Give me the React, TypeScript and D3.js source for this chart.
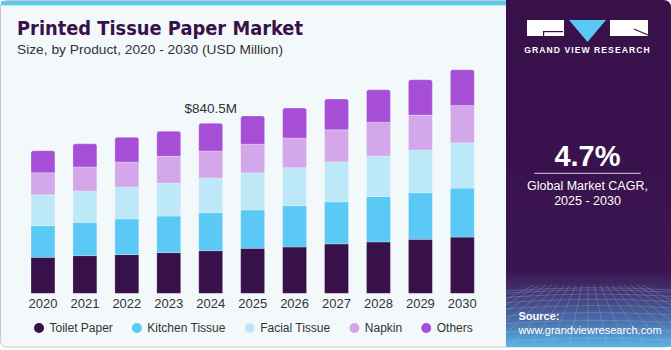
import React from "react";
import * as d3 from "d3";

const years = ["2020", "2021", "2022", "2023", "2024", "2025", "2026", "2027", "2028", "2029", "2030"];
const toiletPaper = [178, 186, 191, 201, 210.6, 222.5, 229, 244, 254, 267, 278];
const kitchenTissue = [156, 165, 176.5, 181, 188, 189.5, 204, 208, 224, 230, 242];
const facialTissue = [153, 155, 158, 163, 171.5, 183, 188, 198, 201, 211, 224];
const napkin = [109, 119, 124, 132, 133.5, 142, 147, 158, 167, 173, 185];
const others = [109, 114, 122, 124, 136.9, 140, 148, 153, 160, 175, 176];
const seriesNames = ["Toilet Paper", "Kitchen Tissue", "Facial Tissue", "Napkin", "Others"];
const seriesColors = ["#38104a", "#5bc9f6", "#bde8f8", "#d4a6ea", "#a64fd6"];
const annotation = { year: "2024", label: "$840.5M" };

const FONT = "'Liberation Sans', Arial, sans-serif";

function measure(text: string, font: string): number {
  if (typeof document === "undefined") return text.length * 6;
  const c = document.createElement("canvas");
  const ctx = c.getContext("2d");
  if (!ctx) return text.length * 6;
  ctx.font = font;
  return ctx.measureText(text).width;
}

export default function App() {
  const W = 671;
  const H = 350;
  const table = years.map((y, i) => ({
    year: y,
    "Toilet Paper": toiletPaper[i],
    "Kitchen Tissue": kitchenTissue[i],
    "Facial Tissue": facialTissue[i],
    Napkin: napkin[i],
    Others: others[i],
  }));
  const stack = d3.stack<any>().keys(seriesNames)(table);

  const x = d3.scaleBand<string>().domain(years).range([22, 483.3]).paddingInner(0.43).paddingOuter(0.215);
  const y = d3.scaleLinear().domain([0, 1200]).range([293.3, 293.3 - 1200 * 0.20226]);
  const bw = x.bandwidth();

  const totalOf = (i: number) => toiletPaper[i] + kitchenTissue[i] + facialTissue[i] + napkin[i] + others[i];
  const annIdx = years.indexOf(annotation.year);

  // legend layout
  const legendFont = `12px ${FONT}`;
  let lx = 39;
  const legendItems = seriesNames.map((name, i) => {
    const item = { name, color: seriesColors[i], cx: lx, tx: lx + 10.5 };
    lx = lx + 10.5 + measure(name, legendFont) + 24;
    return item;
  });

  const topPath = (x0: number, y0: number, w: number, h: number, r: number) =>
    `M${x0},${y0 + h}V${y0 + r}Q${x0},${y0} ${x0 + r},${y0}H${x0 + w - r}Q${x0 + w},${y0} ${x0 + w},${y0 + r}V${y0 + h}Z`;

  // mesh lines for panel decoration
  const meshH = d3.range(0, 10).map((k) => 288 + Math.pow(k / 9, 1.5) * 60);
  const meshV = d3.range(-9, 10).map((k) => k);

  return (
    <div>
      <style>{"body{margin:0}"}</style>
      <svg width={W} height={H} style={{ display: "block" }} fontFamily={FONT}>
        <defs>
          <linearGradient id="panelGrad" x1="0" y1="0" x2="0" y2="1">
            <stop offset="0" stopColor="#38104a" />
            <stop offset="0.78" stopColor="#3a1450" />
            <stop offset="0.84" stopColor="#43346f" />
            <stop offset="0.92" stopColor="#4a6aa6" />
            <stop offset="1" stopColor="#5ab4e4" />
          </linearGradient>
          <clipPath id="meshClip">
            <rect x={506} y={285} width={165} height={62} />
          </clipPath>
        </defs>
        {/* card */}
        <rect x={0.5} y={0.5} width={W - 1} height={346.5} rx={6} fill="#f3f8fb" stroke="#c9c9c9" />
        <rect x={1} y={1} width={506} height={4} fill="#5bc8f0" />
        <rect x={1} y={5} width={506} height={1} fill="#bfe6f7" />
        {/* right panel */}
        <path d={`M506,0H663Q671,0 671,8V347H506Z`} fill="url(#panelGrad)" />
        <g clipPath="url(#meshClip)" stroke="#a8ccf0" strokeOpacity={0.32} strokeWidth={0.8} fill="none">
          {meshH.map((yy, k) => (
            <path key={"h" + k} d={`M506,${yy + 3}Q590,${yy - 3} 671,${yy + 2}`} />
          ))}
          {meshV.map((k) => (
            <line key={"v" + k} x1={588 + k * 6} y1={285} x2={588 + k * 20} y2={350} />
          ))}
        </g>
        {/* logo */}
        <rect x={527} y={20} width={37} height={16} fill="#ffffff" />
        <rect x={543} y={31} width={20} height={1.2} fill="#38104a" />
        <rect x={543} y={31} width={1.2} height={5} fill="#38104a" />
        <path d="M569,20H606L587.5,42Z" fill="#5bc8f5" />
        <rect x={610} y={20} width={38} height={16} fill="#ffffff" />
        <path d="M634,29L648,35" stroke="#38104a" strokeWidth={1.2} />
        <text x={587.5} y={53} textAnchor="middle" fill="#ffffff" fontSize={8.6} fontWeight="bold" letterSpacing={1.05}>
          GRAND VIEW RESEARCH
        </text>
        {/* CAGR */}
        <text x={587.5} y={166} textAnchor="middle" fill="#ffffff" fontSize={29} fontWeight="bold">
          4.7%
        </text>
        <line x1={534.3} x2={640.7} y1={173.3} y2={173.3} stroke="#d8d0e0" strokeWidth={1} />
        <text x={587.5} y={189.5} textAnchor="middle" fill="#ffffff" fontSize={12.5}>
          Global Market CAGR,
        </text>
        <text x={587.5} y={204.5} textAnchor="middle" fill="#ffffff" fontSize={12.5}>
          2025 - 2030
        </text>
        <text x={518.5} y={319.5} fill="#ffffff" fontSize={11} fontWeight="bold">
          Source:
        </text>
        <text x={518.5} y={333.5} fill="#ffffff" fontSize={11}>
          www.grandviewresearch.com
        </text>
        {/* title */}
        <text
          x={17}
          y={35}
          fill="#38104a"
          fontSize={19.5}
          fontWeight="bold"
          fontFamily="'DejaVu Sans', 'Liberation Sans', sans-serif"
          textLength={286}
          lengthAdjust="spacingAndGlyphs"
        >
          Printed Tissue Paper Market
        </text>
        <text x={17} y={54} fill="#333333" fontSize={13.5} textLength={266} lengthAdjust="spacingAndGlyphs">
          Size, by Product, 2020 - 2030 (USD Million)
        </text>
        {/* bars */}
        {stack.map((s, si) => (
          <g key={s.key} fill={seriesColors[si]}>
            {s.map((d, i) => {
              const x0 = x(years[i]) as number;
              const y0 = y(d[1]);
              const h = y(d[0]) - y(d[1]);
              if (si === stack.length - 1) {
                return <path key={i} d={topPath(x0, y0, bw, h, 2.5)} stroke="#ffffff" strokeOpacity={0.3} strokeWidth={0.8} />;
              }
              return <rect key={i} x={x0} y={y0} width={bw} height={h} stroke="#ffffff" strokeOpacity={0.3} strokeWidth={0.8} />;
            })}
          </g>
        ))}
        {/* annotation */}
        <text
          x={(x(annotation.year) as number) + bw / 2}
          y={y(totalOf(annIdx)) - 10.5}
          textAnchor="middle"
          fill="#333333"
          fontSize={13.5}
        >
          {annotation.label}
        </text>
        {/* x axis labels */}
        {years.map((yr) => (
          <text key={yr} x={(x(yr) as number) + bw / 2} y={307.5} textAnchor="middle" fill="#333333" fontSize={13}>
            {yr}
          </text>
        ))}
        {/* legend */}
        {legendItems.map((it) => (
          <g key={it.name}>
            <circle cx={it.cx} cy={328} r={5} fill={it.color} />
            <text x={it.tx} y={332.3} fill="#333333" fontSize={12}>
              {it.name}
            </text>
          </g>
        ))}
      </svg>
    </div>
  );
}
